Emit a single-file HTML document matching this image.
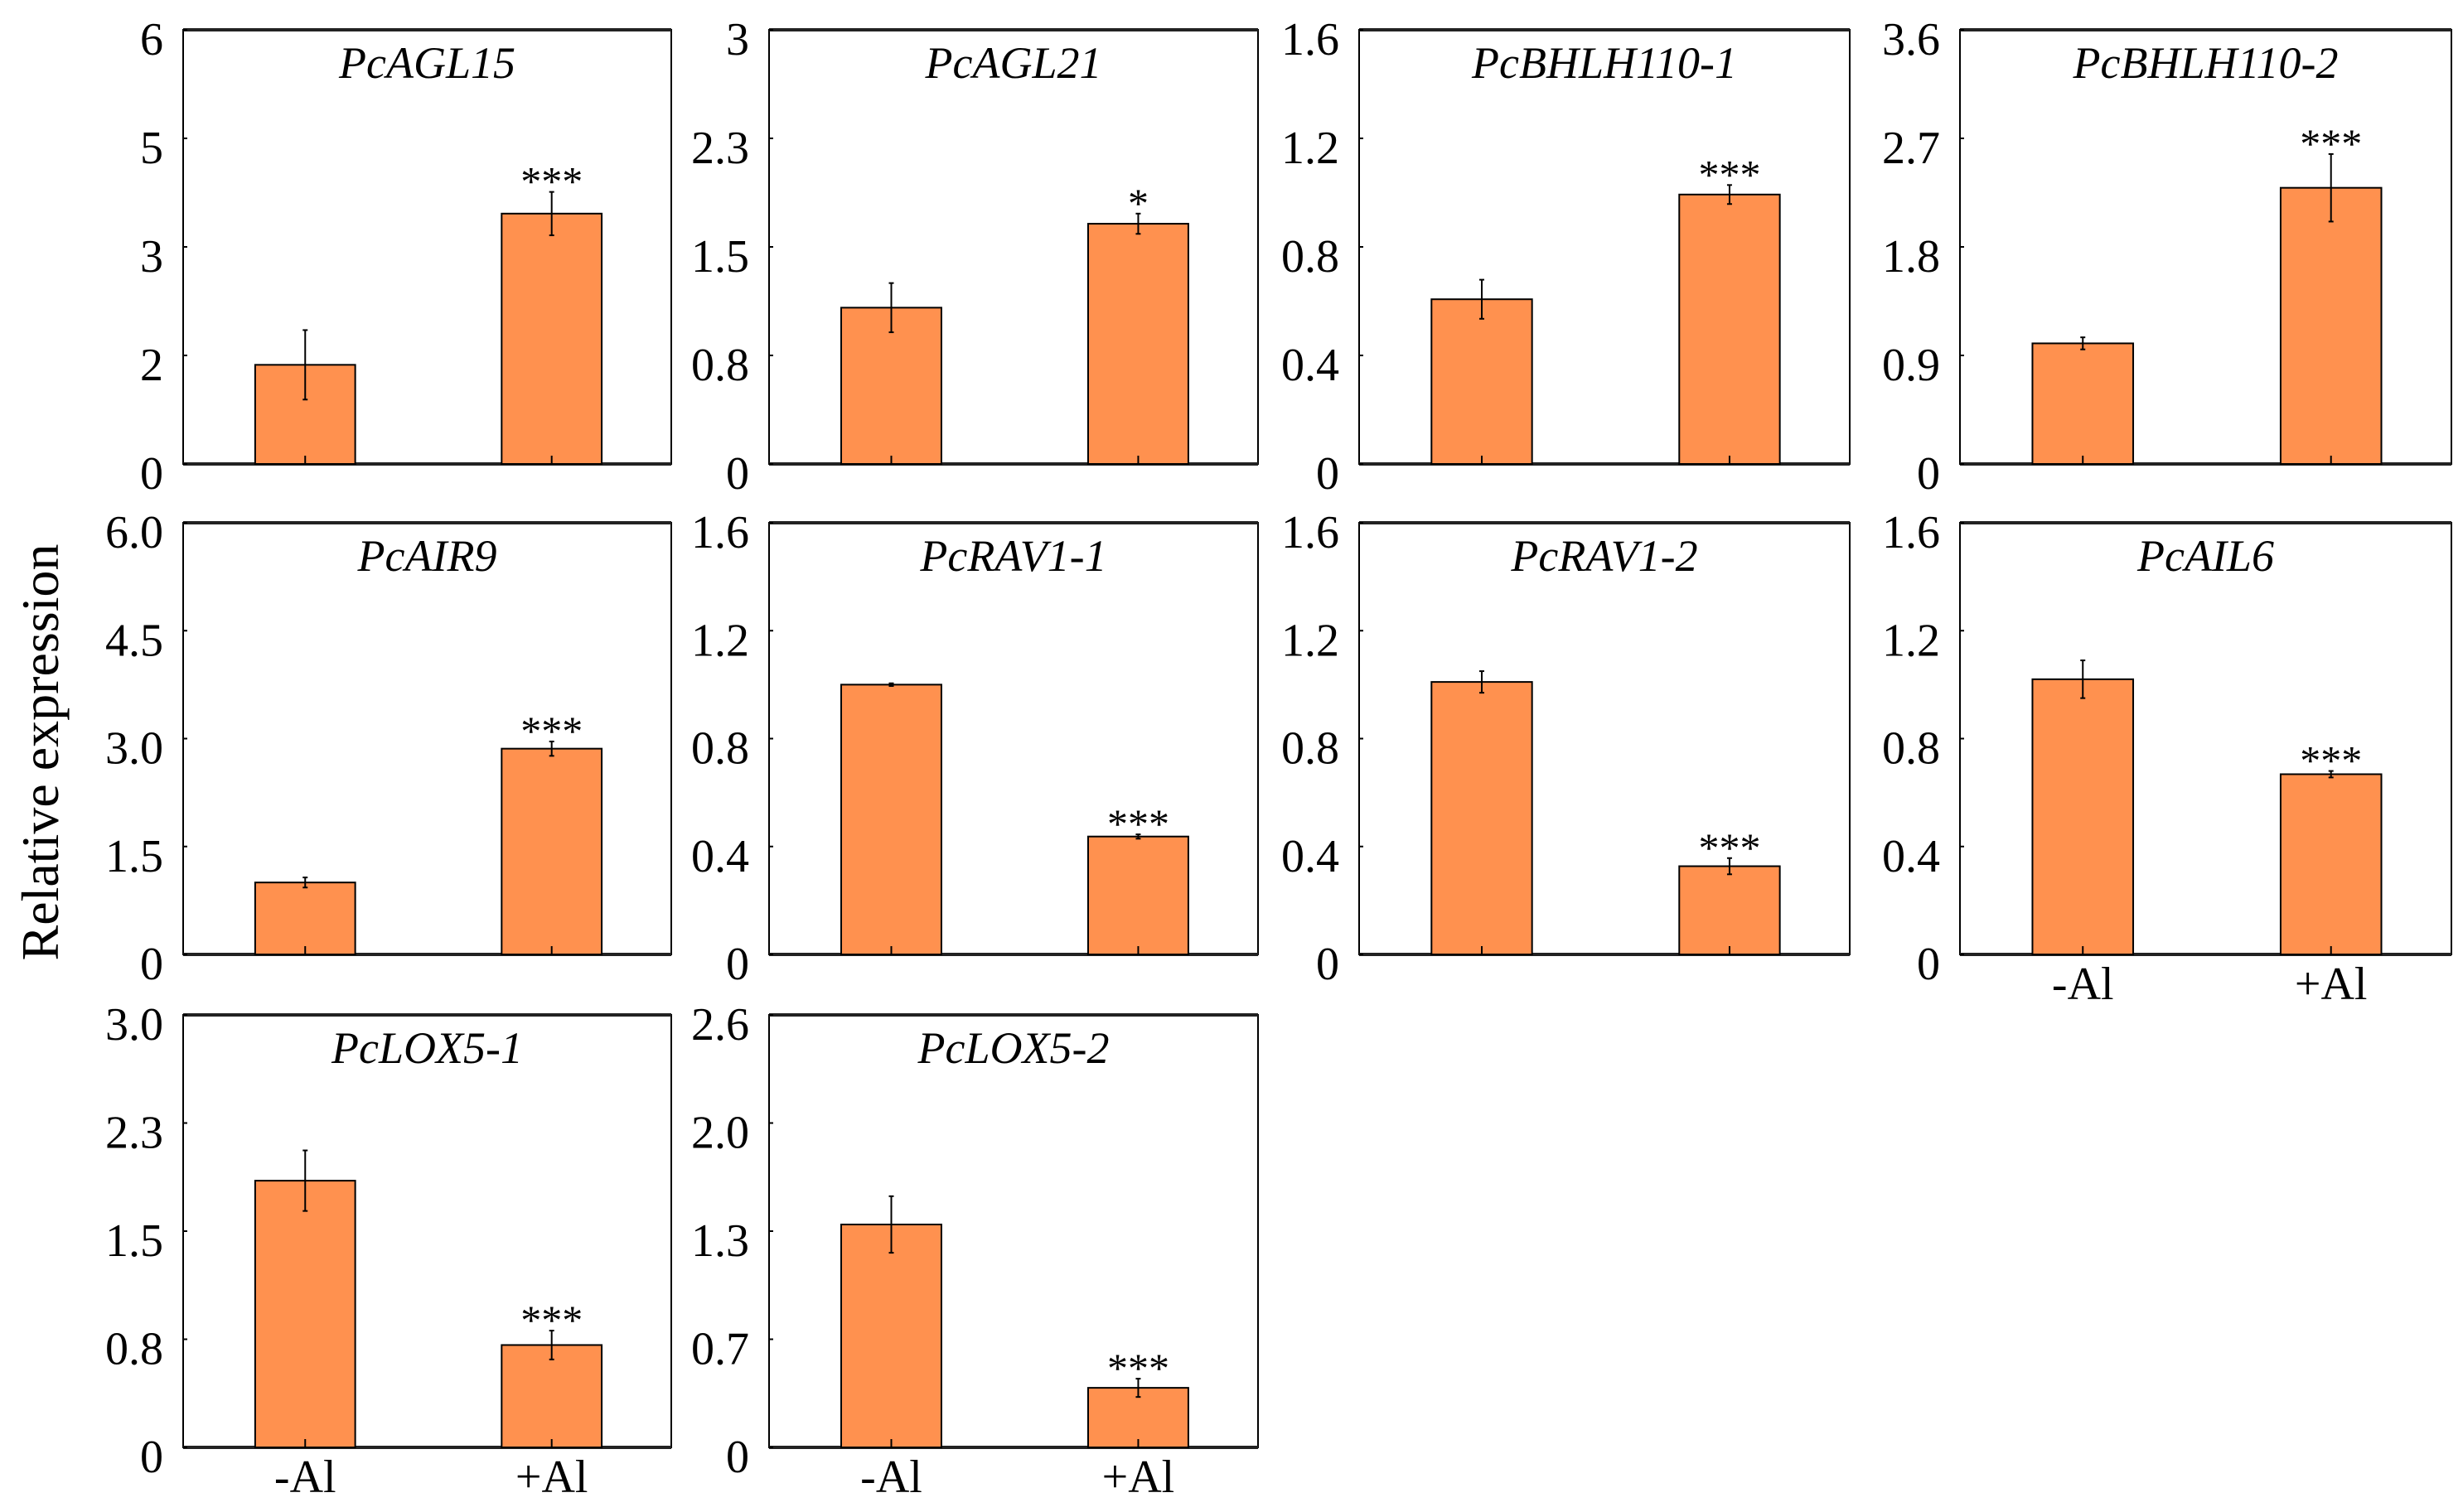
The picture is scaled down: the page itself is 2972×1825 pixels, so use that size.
<!DOCTYPE html>
<html><head><meta charset="utf-8"><style>
html,body{margin:0;padding:0;background:#fff;}
svg{display:block;font-family:"Liberation Serif",serif;}
</style></head><body>
<svg id="chart" width="2972" height="1825" viewBox="0 0 2972 1825" xmlns="http://www.w3.org/2000/svg">
<text x="0" y="0" transform="translate(70,908) rotate(-90)" font-size="64" text-anchor="middle" fill="#000">Relative expression</text>
</svg>
<script>
const genes = ["PcAGL15","PcAGL21","PcBHLH110-1","PcBHLH110-2","PcAIR9","PcRAV1-1","PcRAV1-2","PcAIL6","PcLOX5-1","PcLOX5-2"];
const categories = ["-Al","+Al"];
const minusAl = [1.37,1.08,0.607,1.0,1.0,1.0,1.01,1.02,1.85,1.34];
const plusAl = [3.46,1.66,0.993,2.29,2.86,0.437,0.327,0.668,0.71,0.358];
const minusErr = [0.48,0.17,0.072,0.05,0.07,0.005,0.04,0.07,0.21,0.17];
const plusErr = [0.30,0.07,0.035,0.28,0.10,0.008,0.03,0.012,0.10,0.055];
const stars = ["***","*","***","***","***","***","***","***","***","***"];
const axisMax = [6,3,1.6,3.6,6,1.6,1.6,1.6,3.0,2.6];
const tickLabels = [
 ["0","2","3","5","6"],["0","0.8","1.5","2.3","3"],["0","0.4","0.8","1.2","1.6"],["0","0.9","1.8","2.7","3.6"],
 ["0","1.5","3.0","4.5","6.0"],["0","0.4","0.8","1.2","1.6"],["0","0.4","0.8","1.2","1.6"],["0","0.4","0.8","1.2","1.6"],
 ["0","0.8","1.5","2.3","3.0"],["0","0.7","1.3","2.0","2.6"]];
const showXLabels = [false,false,false,false,false,false,false,true,true,true];

const colL=[221,928,1640,2365], colR=[810,1518,2232,2958];
const rowT=[36,631,1225], rowB=[560,1152,1747];
const NS="http://www.w3.org/2000/svg";
const svg=document.getElementById('chart');
function mk(tag,attrs,parent){const e=document.createElementNS(NS,tag);for(const k in attrs)e.setAttribute(k,attrs[k]);(parent||svg).appendChild(e);return e;}

genes.forEach((g,i)=>{
  const r=Math.floor(i/4), c=i%4;
  const L=colL[c],R=colR[c],T=rowT[r],B=rowB[r],W=R-L;
  const grp=mk('g',{});
  
  
  const y=v=>B-(v/axisMax[i])*(B-T);
  const x=k=>L+W*(k===0?0.25:0.755);
  const bw=W*0.205;
  const fr=mk('rect',{x:L,y:T,width:W,height:B-T,fill:'none',stroke:'#000','stroke-width':2},grp);
  
  
  mk('line',{x1:L,x2:R,y1:T,y2:T,stroke:'#222','stroke-width':4},grp);
  const xa=mk('line',{x1:L,x2:R,y1:B,y2:B,stroke:'#222','stroke-width':4},grp);
  
  
  tickLabels[i].forEach((t,k)=>{
    const yy=B-(k/4)*(B-T);
    mk('line',{x1:L,x2:L+5,y1:yy,y2:yy,stroke:'#000','stroke-width':2},grp);
    const tl=mk('text',{x:L-24,y:yy+30,'font-size':56,'text-anchor':'end',fill:'#000'},grp);
    tl.textContent=t;
    
    
  });
  const ti=mk('text',{x:L+W/2,y:T+58,'font-size':54,'font-style':'italic','text-anchor':'middle',fill:'#000'},grp);
  ti.textContent=g;
  
  
  const vals=[minusAl[i],plusAl[i]], errs=[minusErr[i],plusErr[i]];
  vals.forEach((v,k)=>{
    const cx=x(k);
    const b=mk('rect',{x:cx-bw/2,y:y(v),width:bw,height:B-y(v),fill:'#FF914F',stroke:'#000','stroke-width':2},grp);
    
    
    mk('line',{x1:cx,x2:cx,y1:B,y2:B-10,stroke:'#000','stroke-width':2},grp);
    const et=y(v+errs[k]), eb=y(Math.max(0,v-errs[k]));
    const eg=mk('g',{stroke:'#000','stroke-width':2},grp);
    
    
    mk('line',{x1:cx,x2:cx,y1:et,y2:eb},eg);
    mk('line',{x1:cx-3,x2:cx+3,y1:et,y2:et},eg);
    mk('line',{x1:cx-3,x2:cx+3,y1:eb,y2:eb},eg);
    if(k===1){
      const s=mk('text',{x:cx,y:et+4,'font-size':50,'text-anchor':'middle',fill:'#000'},grp);
      s.textContent=stars[i];
      
      
    }
    if(showXLabels[i]){
      const xl=mk('text',{x:cx,y:B+54,'font-size':56,'text-anchor':'middle',fill:'#000'},grp);
      xl.textContent=categories[k];
      
      
    }
  });
});
</script>
</body></html>
